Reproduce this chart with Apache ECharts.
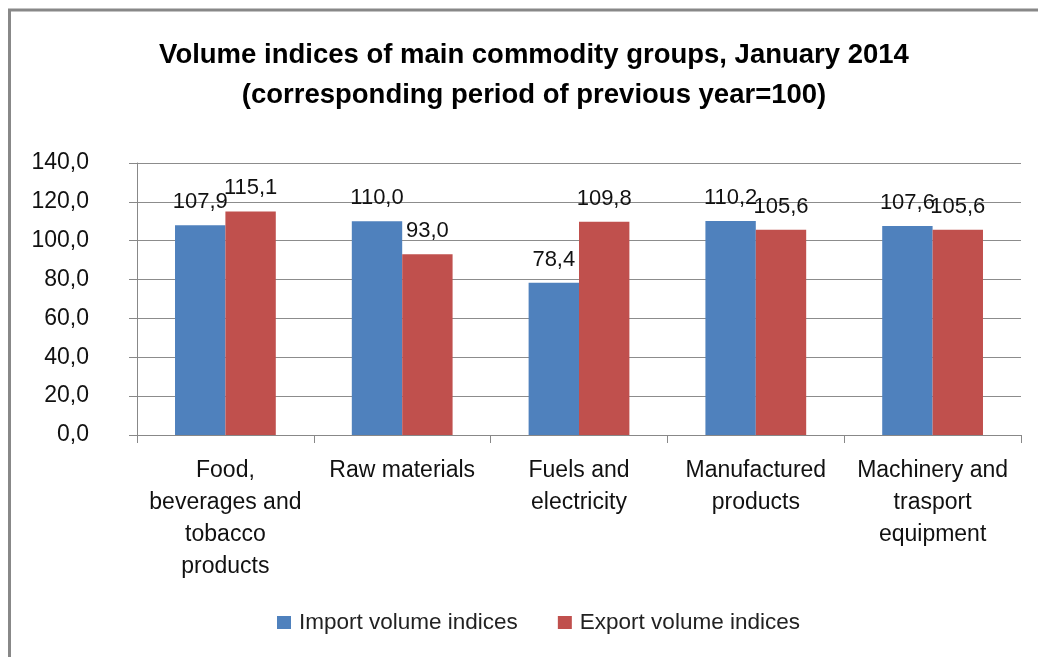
<!DOCTYPE html>
<html>
<head>
<meta charset="utf-8">
<script src="https://cdn.jsdelivr.net/npm/echarts@6/dist/echarts.min.js"></script>
<style>html,body{margin:0;padding:0;background:#fff}#c{width:1038px;height:657px}</style>
</head>
<body>
<div id="c"></div>
<script>
var categories = ['Food,\nbeverages and\ntobacco\nproducts', 'Raw materials', 'Fuels and\nelectricity', 'Manufactured\nproducts', 'Machinery and\ntrasport\nequipment'];
var importValues = [107.9, 110.0, 78.4, 110.2, 107.6];
var exportValues = [115.1, 93.0, 109.8, 105.6, 105.6];
var seriesNames = ['Import volume indices', 'Export volume indices'];
var titleText = 'Volume indices of main commodity groups, January 2014\n(corresponding period of previous year=100)';

var FONT = 'Liberation Sans';
function fmt(v){ return v.toFixed(1).replace('.', ','); }

var chart = echarts.init(document.getElementById('c'));
chart.setOption({
  backgroundColor: '#fff',
  animation: false,
  textStyle: { fontFamily: FONT },
  title: {
    text: titleText,
    left: 529,
    textAlign: 'center',
    top: 30,
    textStyle: { fontFamily: FONT, fontSize: 27.5, fontWeight: 'bold', color: '#000', lineHeight: 40 }
  },
  legend: {
    bottom: 18,
    left: 272,
    itemWidth: 14,
    itemHeight: 13,
    itemGap: 40,
    icon: 'rect',
    textStyle: { fontFamily: FONT, fontSize: 22.5, color: '#222', padding: [0, 0, 0, 3] },
    data: seriesNames
  },
  grid: { left: 137, right: 17, top: 163, bottom: 222 },
  xAxis: {
    type: 'category',
    data: categories,
    axisLine: { lineStyle: { color: '#888', width: 1 } },
    axisTick: { show: true, length: 8, alignWithLabel: false, lineStyle: { color: '#888' } },
    axisLabel: { interval: 0, margin: 20, fontFamily: FONT, fontSize: 23, color: '#111', lineHeight: 32 }
  },
  yAxis: {
    type: 'value',
    min: 0, max: 140, interval: 20,
    axisLine: { show: true, lineStyle: { color: '#888' } },
    axisTick: { show: true, length: 8, inside: false, lineStyle: { color: '#888' } },
    splitLine: { lineStyle: { color: '#8c8c8c', width: 1 } },
    axisLabel: { margin: 48, fontFamily: FONT, fontSize: 23, color: '#111', formatter: function(v){ return fmt(v); } }
  },
  series: [
    {
      name: seriesNames[0], type: 'bar', data: importValues,
      barGap: '0%', barCategoryGap: '43%',
      itemStyle: { color: '#4f81bd' },
      label: { show: true, position: 'top', distance: 12, fontFamily: FONT, fontSize: 22, color: '#111', formatter: function(p){ return fmt(p.value); } }
    },
    {
      name: seriesNames[1], type: 'bar', data: exportValues,
      itemStyle: { color: '#c0504d' },
      label: { show: true, position: 'top', distance: 12, fontFamily: FONT, fontSize: 22, color: '#111', formatter: function(p){ return fmt(p.value); } }
    }
  ],
  graphic: [
    { type: 'line', shape: { x1: 9.5, y1: 10, x2: 9.5, y2: 657 }, style: { stroke: '#888', lineWidth: 3 }, silent: true },
    { type: 'line', shape: { x1: 8, y1: 10, x2: 1038, y2: 10 }, style: { stroke: '#888', lineWidth: 3 }, silent: true }
  ]
});
</script>
</body>
</html>
